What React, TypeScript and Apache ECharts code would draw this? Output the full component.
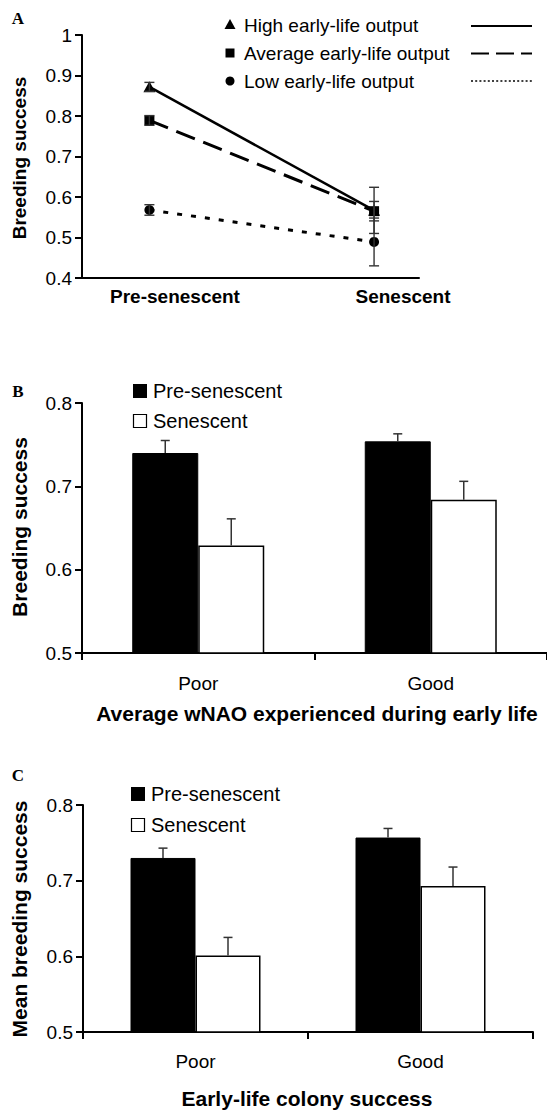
import React, { useEffect, useRef } from 'react';
import * as echarts from 'echarts';

// ---------- Panel A data ----------
const stagesA = ['Pre-senescent', 'Senescent'];
const stageXA = [0, 1];
const highOutput = [0.872, 0.567];
const highErr = [0.011, 0.057];
const avgOutput = [0.789, 0.565];
const avgErr = [0.012, 0.024];
const lowOutput = [0.568, 0.489];
const lowErr = [0.013, 0.059];
const yTicksA = [0.4, 0.5, 0.6, 0.7, 0.8, 0.9, 1];

// ---------- Panel B data ----------
const groupsB = ['Poor', 'Good'];
const preB = [0.74, 0.754];
const preBErr = [0.015, 0.009];
const senB = [0.629, 0.684];
const senBErr = [0.032, 0.022];
const yTicksB = [0.5, 0.6, 0.7, 0.8];

// ---------- Panel C data ----------
const groupsC = ['Poor', 'Good'];
const preC = [0.73, 0.757];
const preCErr = [0.013, 0.012];
const senC = [0.601, 0.693];
const senCErr = [0.024, 0.025];
const yTicksC = [0.5, 0.6, 0.7, 0.8];

const SANS = '"Liberation Sans", Arial, sans-serif';
const SERIF = '"Liberation Serif", "Times New Roman", serif';
const BAR_W_B = 66;
const BAR_W_C = 65;

function txt(text: string, x: number, y: number, size: number, bold: boolean, align = 'center', rotation = 0, family = SANS) {
  return {
    type: 'text',
    x,
    y,
    rotation,
    silent: true,
    style: {
      text,
      fill: '#000',
      fontSize: size,
      fontWeight: bold ? 'bold' : 'normal',
      fontFamily: family,
      align,
      verticalAlign: 'middle',
    },
  };
}

function lineErrRender(params: any, api: any) {
  const x = api.value(0);
  const y = api.value(1);
  const e = api.value(2);
  const top = api.coord([x, y + e]);
  const bot = api.coord([x, y - e]);
  const h = 5;
  const st = { stroke: '#333', lineWidth: 1.4 };
  return {
    type: 'group',
    children: [
      { type: 'line', shape: { x1: top[0], y1: top[1], x2: bot[0], y2: bot[1] }, style: st },
      { type: 'line', shape: { x1: top[0] - h, y1: top[1], x2: top[0] + h, y2: top[1] }, style: st },
      { type: 'line', shape: { x1: bot[0] - h, y1: bot[1], x2: bot[0] + h, y2: bot[1] }, style: st },
    ],
  };
}

function barErrRender(barW: number) {
  return (params: any, api: any) => {
    const i = api.value(0);
    const v = api.value(1);
    const e = api.value(2);
    const side = api.value(3);
    const base = api.coord([i, v]);
    const top = api.coord([i, v + e]);
    const x = base[0] + side * barW / 2;
    const h = 4.5;
    const st = { stroke: '#333', lineWidth: 1.5 };
    return {
      type: 'group',
      children: [
        { type: 'line', shape: { x1: x, y1: base[1], x2: x, y2: top[1] }, style: st },
        { type: 'line', shape: { x1: x - h, y1: top[1], x2: x + h, y2: top[1] }, style: st },
      ],
    };
  };
}

const axisLineStyle = { show: true, onZero: false, lineStyle: { color: '#000', width: 2 } };
const yTick = { show: true, length: 7, lineStyle: { color: '#000', width: 2 } };
const yLabel = { color: '#000', fontSize: 19, fontFamily: SANS, margin: 10 };

export default function App() {
  const ref = useRef<HTMLDivElement>(null);
  useEffect(() => {
    if (!ref.current) return;
    const chart = echarts.init(ref.current, undefined, { renderer: 'svg' });

    const pts = (vals: number[]) => vals.map((v, i) => [stageXA[i], v]);
    const errA = (vals: number[], errs: number[]) => vals.map((v, i) => [stageXA[i], v, errs[i]]);
    const errBar = (pre: number[], preE: number[], sen: number[], senE: number[]) => [
      ...pre.map((v, i) => [i, v, preE[i], -1]),
      ...sen.map((v, i) => [i, v, senE[i], 1]),
    ];

    const option: any = {
      animation: false,
      backgroundColor: '#fff',
      grid: [
        { left: 82, top: 35, width: 337, height: 243 },
        { left: 82, top: 403, width: 470, height: 250 },
        { left: 83, top: 805, width: 450, height: 227 },
      ],
      xAxis: [
        {
          gridIndex: 0, type: 'value', min: -0.3, max: 1.2,
          axisLine: axisLineStyle, axisTick: { show: false }, axisLabel: { show: false }, splitLine: { show: false },
        },
        {
          gridIndex: 1, type: 'category', data: groupsB,
          axisLine: axisLineStyle,
          axisTick: { show: true, length: 7, lineStyle: { color: '#000', width: 2 } },
          axisLabel: { color: '#000', fontSize: 19, fontFamily: SANS, margin: 21 },
        },
        {
          gridIndex: 2, type: 'category', data: groupsC,
          axisLine: axisLineStyle,
          axisTick: { show: true, length: 7, lineStyle: { color: '#000', width: 2 } },
          axisLabel: { color: '#000', fontSize: 19, fontFamily: SANS, margin: 20 },
        },
      ],
      yAxis: [
        {
          gridIndex: 0, type: 'value', min: yTicksA[0], max: yTicksA[yTicksA.length - 1], interval: 0.1,
          axisLine: axisLineStyle, axisTick: yTick, axisLabel: yLabel, splitLine: { show: false },
        },
        {
          gridIndex: 1, type: 'value', min: yTicksB[0], max: yTicksB[yTicksB.length - 1], interval: 0.1,
          axisLine: axisLineStyle, axisTick: yTick, axisLabel: yLabel, splitLine: { show: false },
        },
        {
          gridIndex: 2, type: 'value', min: yTicksC[0], max: yTicksC[yTicksC.length - 1], interval: 0.1,
          axisLine: axisLineStyle, axisTick: yTick, axisLabel: yLabel, splitLine: { show: false },
        },
      ],
      series: [
        {
          name: 'High early-life output', type: 'line', xAxisIndex: 0, yAxisIndex: 0,
          data: pts(highOutput), symbol: 'triangle', symbolSize: [12, 11],
          itemStyle: { color: '#000' }, lineStyle: { color: '#000', width: 2.5, type: 'solid' }, z: 3,
        },
        {
          name: 'Average early-life output', type: 'line', xAxisIndex: 0, yAxisIndex: 0,
          data: pts(avgOutput), symbol: 'rect', symbolSize: 10,
          itemStyle: { color: '#000' }, lineStyle: { color: '#000', width: 3, type: [20, 9] }, z: 3,
        },
        {
          name: 'Low early-life output', type: 'line', xAxisIndex: 0, yAxisIndex: 0,
          data: pts(lowOutput), symbol: 'circle', symbolSize: 10,
          itemStyle: { color: '#000' }, lineStyle: { color: '#000', width: 3, type: [5, 9] }, z: 3,
        },
        {
          type: 'custom', xAxisIndex: 0, yAxisIndex: 0, renderItem: lineErrRender,
          data: [...errA(highOutput, highErr), ...errA(avgOutput, avgErr), ...errA(lowOutput, lowErr)], z: 4,
        },
        {
          name: 'Pre-senescent', type: 'bar', xAxisIndex: 1, yAxisIndex: 1, data: preB,
          barWidth: BAR_W_B, barGap: '0%', itemStyle: { color: '#000', borderColor: '#000', borderWidth: 1 },
        },
        {
          name: 'Senescent', type: 'bar', xAxisIndex: 1, yAxisIndex: 1, data: senB,
          barWidth: BAR_W_B, barGap: '0%', itemStyle: { color: '#fff', borderColor: '#000', borderWidth: 1.5 },
        },
        {
          type: 'custom', xAxisIndex: 1, yAxisIndex: 1, renderItem: barErrRender(BAR_W_B),
          encode: { x: 0, y: 1 }, data: errBar(preB, preBErr, senB, senBErr), z: 4,
        },
        {
          name: 'Pre-senescent', type: 'bar', xAxisIndex: 2, yAxisIndex: 2, data: preC,
          barWidth: BAR_W_C, barGap: '0%', itemStyle: { color: '#000', borderColor: '#000', borderWidth: 1 },
        },
        {
          name: 'Senescent', type: 'bar', xAxisIndex: 2, yAxisIndex: 2, data: senC,
          barWidth: BAR_W_C, barGap: '0%', itemStyle: { color: '#fff', borderColor: '#000', borderWidth: 1.5 },
        },
        {
          type: 'custom', xAxisIndex: 2, yAxisIndex: 2, renderItem: barErrRender(BAR_W_C),
          encode: { x: 0, y: 1 }, data: errBar(preC, preCErr, senC, senCErr), z: 4,
        },
      ],
      graphic: [
        // panel letters
        txt('A', 18, 18, 17, true, 'center', 0, SERIF),
        txt('B', 18, 391, 17, true, 'center', 0, SERIF),
        txt('C', 18, 775, 17, true, 'center', 0, SERIF),
        // Panel A titles
        txt('Breeding success', 19, 158, 19, true, 'center', Math.PI / 2),
        txt(stagesA[0], 175, 296, 19, true),
        txt(stagesA[1], 403, 296, 19, true),
        // Panel A legend
        { type: 'polygon', silent: true, shape: { points: [[230, 19], [235.5, 29], [224.5, 29]] }, style: { fill: '#000' } },
        { type: 'rect', silent: true, shape: { x: 225.5, y: 48.5, width: 9, height: 9 }, style: { fill: '#000' } },
        { type: 'circle', silent: true, shape: { cx: 230, cy: 81, r: 4.5 }, style: { fill: '#000' } },
        txt('High early-life output', 244, 25, 19, false, 'left'),
        txt('Average early-life output', 244, 53, 19, false, 'left'),
        txt('Low early-life output', 244, 81, 19, false, 'left'),
        { type: 'line', silent: true, shape: { x1: 471, y1: 26, x2: 532, y2: 26 }, style: { stroke: '#000', lineWidth: 2 } },
        { type: 'line', silent: true, shape: { x1: 471, y1: 53.5, x2: 532, y2: 53.5 }, style: { stroke: '#000', lineWidth: 2, lineDash: [18, 7] } },
        { type: 'line', silent: true, shape: { x1: 471, y1: 81, x2: 532, y2: 81 }, style: { stroke: '#000', lineWidth: 1.5, lineDash: [2, 2.2] } },
        // Panel B titles + legend
        txt('Breeding success', 19, 527, 21, true, 'center', Math.PI / 2),
        txt('Average wNAO experienced during early life', 317, 713, 21, true),
        { type: 'rect', silent: true, shape: { x: 133, y: 384, width: 14, height: 14 }, style: { fill: '#000' } },
        { type: 'rect', silent: true, shape: { x: 133.5, y: 414.5, width: 13, height: 13 }, style: { fill: '#fff', stroke: '#000', lineWidth: 1.2 } },
        txt('Pre-senescent', 153, 391, 20, false, 'left'),
        txt('Senescent', 153, 421, 20, false, 'left'),
        // Panel C titles + legend
        txt('Mean breeding success', 19, 919, 21, true, 'center', Math.PI / 2),
        txt('Early-life colony success', 307, 1098, 21, true),
        { type: 'rect', silent: true, shape: { x: 131, y: 787, width: 14, height: 14 }, style: { fill: '#000' } },
        { type: 'rect', silent: true, shape: { x: 131.5, y: 818.5, width: 13, height: 13 }, style: { fill: '#fff', stroke: '#000', lineWidth: 1.2 } },
        txt('Pre-senescent', 151, 794, 20, false, 'left'),
        txt('Senescent', 151, 825, 20, false, 'left'),
      ],
    };
    chart.setOption(option);
    return () => chart.dispose();
  }, []);
  return <div ref={ref} style={{ position: 'absolute', left: 0, top: 0, width: 547, height: 1111, background: '#fff' }} />;
}
